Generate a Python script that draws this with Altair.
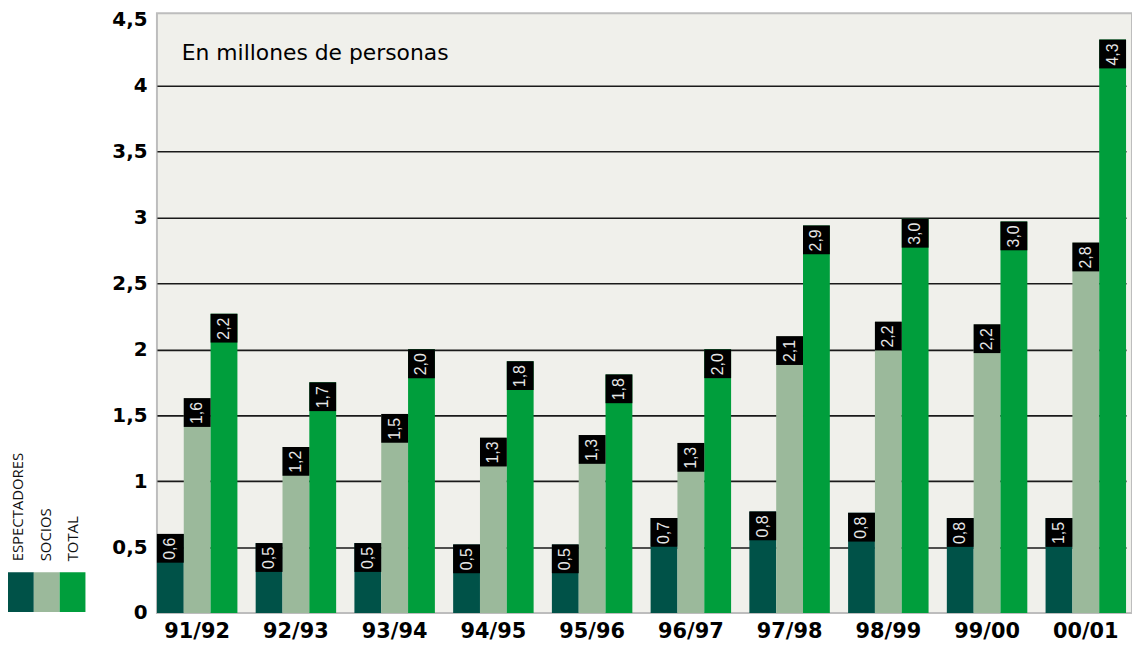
import altair as alt
import pandas as pd

seasons = ["91/92", "92/93", "93/94", "94/95", "95/96", "96/97", "97/98", "98/99", "99/00", "00/01"]
series = ["ESPECTADORES", "SOCIOS", "TOTAL"]

# bar heights as drawn (millions of people)
espectadores = [0.60, 0.53, 0.53, 0.52, 0.52, 0.72, 0.77, 0.76, 0.72, 0.72]
socios = [1.63, 1.26, 1.51, 1.33, 1.35, 1.29, 2.10, 2.21, 2.19, 2.81]
total = [2.27, 1.75, 2.00, 1.91, 1.81, 2.00, 2.94, 2.99, 2.97, 4.35]

# printed value labels
espectadores_lbl = ["0,6", "0,5", "0,5", "0,5", "0,5", "0,7", "0,8", "0,8", "0,8", "1,5"]
socios_lbl = ["1,6", "1,2", "1,5", "1,3", "1,3", "1,3", "2,1", "2,2", "2,2", "2,8"]
total_lbl = ["2,2", "1,7", "2,0", "1,8", "1,8", "2,0", "2,9", "3,0", "3,0", "4,3"]

colors = ["#005248", "#9BB99B", "#009E3C"]
y_ticks = [0, 0.5, 1, 1.5, 2, 2.5, 3, 3.5, 4, 4.5]
note = "En millones de personas"

rows = []
for s, vals, lbls in zip(series, [espectadores, socios, total], [espectadores_lbl, socios_lbl, total_lbl]):
    for season, v, l in zip(seasons, vals, lbls):
        rows.append({"season": season, "series": s, "value": v, "label": l})
df = pd.DataFrame(rows)

x_enc = alt.X(
    "season:N",
    sort=seasons,
    scale=alt.Scale(range=[0, 976], paddingInner=0.185, paddingOuter=0),
    axis=alt.Axis(
        title=None, labelAngle=0, labelFont="DejaVu Sans", labelFontWeight="bold",
        labelFontSize=21, labelColor="black", ticks=False, domain=False, labelPadding=8,
    ),
)
xoff_enc = alt.XOffset("series:N", sort=series, scale=alt.Scale(paddingInner=0, paddingOuter=0))
y_enc = alt.Y(
    "value:Q",
    scale=alt.Scale(domain=[0, 4.55], nice=False, zero=True),
    axis=alt.Axis(
        values=y_ticks, title=None, ticks=False, domain=False,
        labelExpr="replace(format(datum.value, ''), '.', ',')",
        labelFont="DejaVu Sans", labelFontWeight="bold", labelFontSize=20,
        labelColor="black", labelPadding=10,
        gridColor={"condition": {"test": "datum.value === 0 || datum.value === 4.5", "value": "transparent"},
                   "value": "#1a1a1a"},
        gridWidth=1.6,
    ),
)

base = alt.Chart(df)

bars = base.mark_bar().encode(
    x=x_enc,
    xOffset=xoff_enc,
    y=y_enc,
    color=alt.Color("series:N", sort=series, scale=alt.Scale(domain=series, range=colors), legend=None),
)

boxes = base.mark_bar(color="black", y2Offset=29).encode(
    x=x_enc,
    xOffset=xoff_enc,
    y=y_enc,
    y2=alt.Y2("value:Q"),
)

labels = base.mark_text(
    angle=270, color="#E6E6E6", fontSize=16, font="Liberation Sans",
    align="center", baseline="middle", yOffset=15,
).encode(
    x=x_enc,
    xOffset=xoff_enc,
    y=y_enc,
    text="label:N",
)

one = pd.DataFrame({"k": [0]})

title = alt.Chart(one).mark_text(
    text=note, align="left", baseline="alphabetic", fontSize=22,
    font="DejaVu Sans", color="black",
).encode(x=alt.value(25), y=alt.value(47))

legend_layers = []
for i, (s, c) in enumerate(zip(series, colors)):
    left = -150 + 26 * i
    legend_layers.append(
        alt.Chart(one).mark_rect(color=c).encode(
            x=alt.value(left), x2=alt.value(left + 26),
            y=alt.value(563), y2=alt.value(603),
        )
    )
    legend_layers.append(
        alt.Chart(one).mark_text(
            text=s, angle=270, align="left", baseline="middle",
            fontSize=15, font="Open Sans", color="#111111",
        ).encode(x=alt.value(left + 10 + 2 * i), y=alt.value(552))
    )

chart = alt.layer(bars, boxes, labels, title, *legend_layers).properties(
    width=982,
    height=604,
    autosize=alt.AutoSizeParams(type="none"),
    padding={"left": 150, "top": 3, "right": 0, "bottom": 34},
    background="white",
).configure_view(
    fill="#F0F0EB", stroke="#BDBDBD", strokeWidth=2,
)

chart.save("out.html", embed_options={"renderer": "svg", "actions": False})
